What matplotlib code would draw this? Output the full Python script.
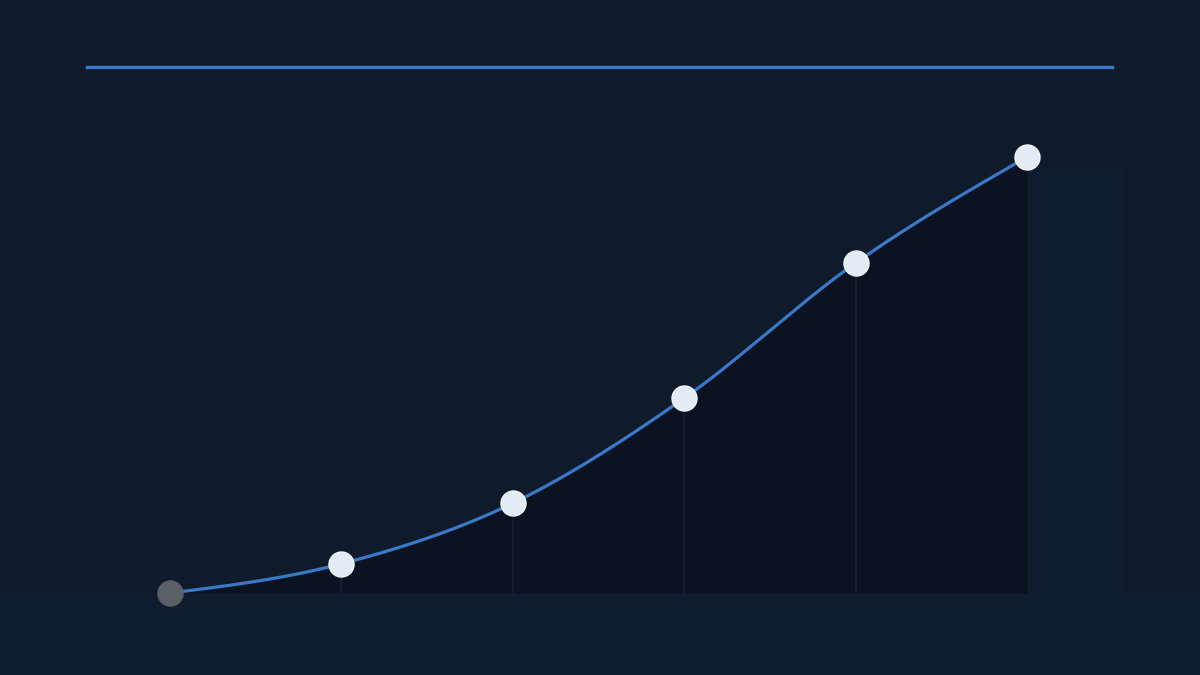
import numpy as np
import matplotlib
matplotlib.use("Agg")
import matplotlib.pyplot as plt

# step index and relative value
steps = [0, 1, 2, 3, 4, 5]
values = [0, 6.7, 20.6, 44.7, 75.7, 100]


def smooth_curve(x, y, n=60):
    # monotone cubic (same tangent rule as d3 curveMonotoneX), only for drawing
    x = np.asarray(x, float)
    y = np.asarray(y, float)
    h = np.diff(x)
    s = np.diff(y) / h
    m = np.zeros_like(y)
    for i in range(1, len(y) - 1):
        p = (s[i - 1] * h[i] + s[i] * h[i - 1]) / (h[i - 1] + h[i])
        m[i] = (np.sign(s[i - 1]) + np.sign(s[i])) * min(abs(s[i - 1]), abs(s[i]), 0.5 * abs(p))
    m[0] = (3 * s[0] - m[1]) / 2
    m[-1] = (3 * s[-1] - m[-2]) / 2
    xs, ys = [], []
    for i in range(len(x) - 1):
        t = np.linspace(0, 1, n, endpoint=(i == len(x) - 2))
        h00 = 2 * t**3 - 3 * t**2 + 1
        h10 = t**3 - 2 * t**2 + t
        h01 = -2 * t**3 + 3 * t**2
        h11 = t**3 - t**2
        xs.append(x[i] + t * h[i])
        ys.append(h00 * y[i] + h10 * h[i] * m[i] + h01 * y[i + 1] + h11 * h[i] * m[i + 1])
    return np.concatenate(xs), np.concatenate(ys)


bg = "#0f1a2b"
fig = plt.figure(figsize=(12, 6.75), dpi=100, facecolor=bg)
ax = fig.add_axes([0, 0, 1, 1])
ax.set_facecolor(bg)
ax.set_xlim(-0.992, 6.009)
ax.set_ylim(-18.8, 136.0)
ax.axis("off")

# slightly lighter band below the baseline
ax.axhspan(-18.8, 0, color="#101c30", zorder=0)
# faint glow to the right of the plot
ax.axvspan(5.0, 5.55, ymin=0.12, ymax=0.75, color="#112038", alpha=0.5, lw=0, zorder=0)

cx, cy = smooth_curve(steps, values)
ax.fill_between(cx, 0, cy, color="#0b1220", alpha=0.8, lw=0, zorder=1)

# drop lines under the inner points
for s, v in zip(steps[1:-1], values[1:-1]):
    ax.plot([s, s], [0, v], color="#172133", lw=1.2, zorder=2)

ax.plot(cx, cy, color="#3a78c8", lw=2.3, solid_capstyle="round", zorder=3)

# header rule
ax.plot([-0.484, 5.496], [120.6, 120.6], color="#3b7ad0", lw=2.4, zorder=3)

ax.plot(steps[0], values[0], "o", ms=18, color="#5b6068", mec="#5b6068", zorder=4)
ax.plot(steps[1:], values[1:], "o", ms=18, color="#e3ebf6", mec="#f2f6fb", mew=1, lw=0, zorder=4)

fig.savefig("out.png", dpi=100, facecolor=bg)
